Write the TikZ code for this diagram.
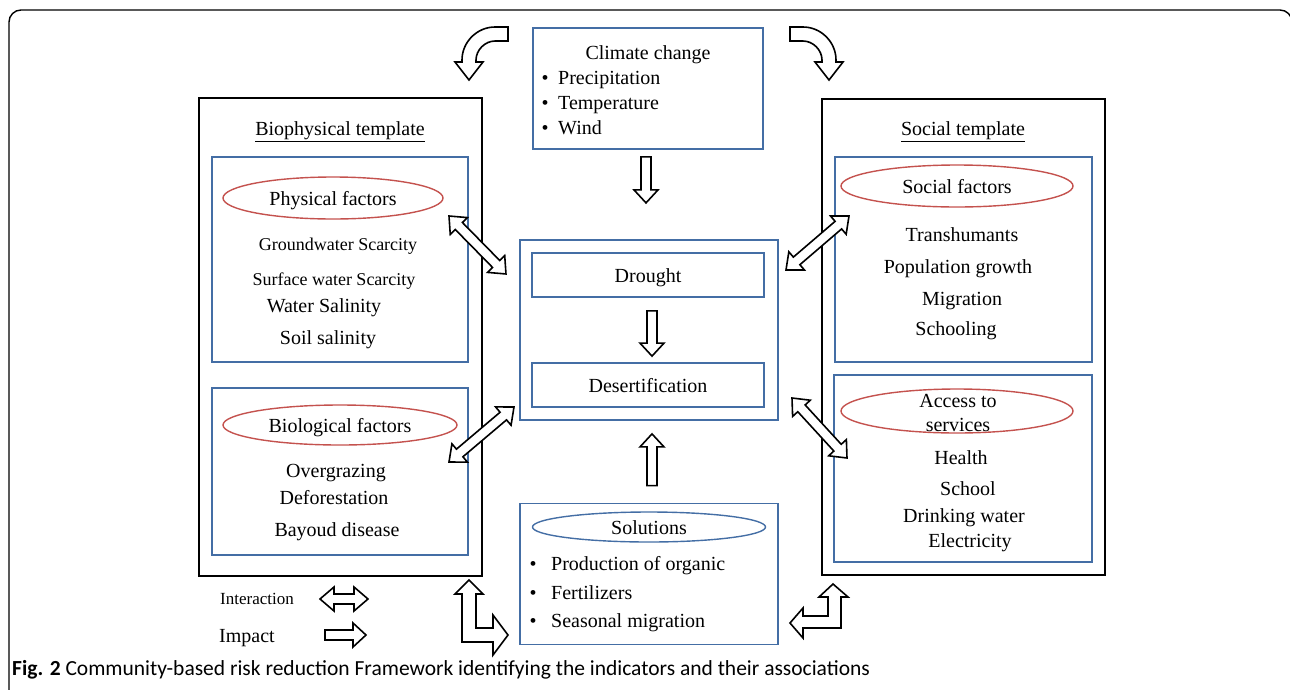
\documentclass[tikz,border=0pt]{standalone}
\usepackage{fontspec}
\setmainfont{Liberation Serif}
\newfontfamily\capfont{Carlito}
\usepackage{xcolor}
\usepackage{tikz}
\usetikzlibrary{shapes,arrows,positioning,calc,shapes.geometric}

\definecolor{boxblue}{RGB}{68,110,165}
\definecolor{ovalred}{RGB}{196,82,78}

% hollow block arrows between two points
\newcommand{\twoway}[2]{%
  \draw[blockline] let \p1=(#1), \p2=(#2),
    \n1={atan2(\y2-\y1,\x2-\x1)}, \n2={veclen(\x2-\x1,\y2-\y1)} in
    [shift={(\p1)}, rotate=\n1]
    (0,0) -- (14,12) -- (14,5) -- (\n2-14,5) -- (\n2-14,12) -- (\n2,0)
    -- (\n2-14,-12) -- (\n2-14,-5) -- (14,-5) -- (14,-12) -- cycle;}
\newcommand{\oneway}[2]{%
  \draw[blockline] let \p1=(#1), \p2=(#2),
    \n1={atan2(\y2-\y1,\x2-\x1)}, \n2={veclen(\x2-\x1,\y2-\y1)} in
    [shift={(\p1)}, rotate=\n1]
    (0,-5) -- (\n2-13,-5) -- (\n2-13,-12) -- (\n2,0) -- (\n2-13,12)
    -- (\n2-13,5) -- (0,5) -- cycle;}

\begin{document}
\begin{tikzpicture}[x=1pt, y=-1pt, >=latex']
    \tikzstyle{frame} = [rectangle, draw=black, line width=2pt, inner sep=0pt]
    \tikzstyle{bluebox} = [rectangle, draw=boxblue, line width=1.8pt, inner sep=0pt]
    \tikzstyle{oval} = [ellipse, draw=ovalred, line width=1.4pt, inner sep=0pt]
    \tikzstyle{txt} = [inner sep=0pt, font=\fontsize{20}{24}\selectfont, text height=16pt, text depth=1pt]
    \tikzstyle{small} = [inner sep=0pt, font=\fontsize{18}{22}\selectfont, text height=15pt, text depth=1pt]
    \tikzstyle{blockline} = [draw=black, fill=white, line width=1.6pt]

    \useasboundingbox (0,0) rectangle (1290,689);
    \draw[line width=1.4pt, rounded corners=12pt] (9,10) rectangle (1292,705);

    % templates
    \node [frame, minimum width=283pt, minimum height=478pt] (bio) at (340.5,337) {};
    \node [frame, minimum width=283pt, minimum height=476pt] (soc) at (963.5,337) {};
    \node [txt] (biotitle) at (340,128) {\underline{Biophysical template}};
    \node [txt] (soctitle) at (963,128) {\underline{Social template}};

    \node [bluebox, minimum width=256pt, minimum height=205pt] (phys) at (340,259.5) {};
    \node [bluebox, minimum width=256pt, minimum height=167pt] (biol) at (340,471.5) {};
    \node [bluebox, minimum width=257pt, minimum height=205pt] (sfac) at (963.5,259.5) {};
    \node [bluebox, minimum width=258pt, minimum height=187pt] (acc) at (963,468.5) {};

    \node [oval, txt, minimum width=220pt, minimum height=42pt] (physoval) at (333,198) {Physical factors};
    \node [oval, txt, minimum width=234pt, minimum height=40pt] (biooval) at (340,425) {Biological factors};
    \node [oval, txt, minimum width=232pt, minimum height=42pt] (socoval) at (957,186) {Social factors};
    \node [oval, minimum width=232pt, minimum height=44pt] (accoval) at (957,411) {};
    \node [inner sep=0pt, align=center, font=\fontsize{20}{24}\selectfont] (acctext) at (958,413) {Access to\\services};

    \node [small] (gw) at (338,243) {Groundwater Scarcity};
    \node [small] (sw) at (334,278) {Surface water Scarcity};
    \node [txt] (ws) at (324,305) {Water Salinity};
    \node [txt] (ss) at (328,337) {Soil salinity};
    \node [txt] (og) at (336,470) {Overgrazing};
    \node [txt] (df) at (334,497) {Deforestation};
    \node [txt] (bd) at (337,529) {Bayoud disease};

    \node [txt] (tr) at (962,234) {Transhumants};
    \node [txt] (pg) at (958,266) {Population growth};
    \node [txt] (mg) at (962,298) {Migration};
    \node [txt] (sc) at (956,328) {Schooling};
    \node [txt] (he) at (961,457) {Health};
    \node [txt] (sh) at (968,488) {School};
    \node [txt] (dw) at (964,515) {Drinking water};
    \node [txt] (el) at (970,540) {Electricity};

    % centre column
    \node [bluebox, minimum width=230pt, minimum height=121pt] (clim) at (648,88.5) {};
    \node [txt] (climtitle) at (648,52) {Climate change};
    \foreach \y/\t in {77/Precipitation, 102/Temperature, 127/Wind} {
        \node [txt] at (545,\y) {\textbullet};
        \node [txt, anchor=west] at (558,\y) {\t};
    }
    \node [bluebox, minimum width=258pt, minimum height=180pt] (core) at (649,330) {};
    \node [bluebox, txt, minimum width=232pt, minimum height=44pt] (drought) at (648,275) {Drought};
    \node [bluebox, txt, minimum width=232pt, minimum height=44pt] (desert) at (648,385) {Desertification};

    \node [bluebox, minimum width=258pt, minimum height=141pt] (sol) at (649,574) {};
    \node [oval, txt, draw=boxblue, minimum width=233pt, minimum height=30pt] (soloval) at (649,527) {Solutions};
    \foreach \y/\t in {563/Production of organic, 592/Fertilizers, 620/Seasonal migration} {
        \node [txt] at (533,\y) {\textbullet};
        \node [txt, anchor=west] at (551,\y) {\t};
    }

    % legend
    \node [inner sep=0pt, font=\fontsize{17}{20}\selectfont, text height=14pt, text depth=1pt] (inter) at (257,598) {Interaction};
    \node [txt] (impact) at (247,635) {Impact};
    \coordinate (int1) at (320,599);
    \coordinate (int2) at (368,599);
    \coordinate (imp1) at (325,635);
    \coordinate (imp2) at (366,635);
    \twoway{int1}{int2}
    \oneway{imp1}{imp2}

    % arrows
    \oneway{$(clim.south)+(-2,7)$}{$(clim.south)+(-2,53)$}
    \oneway{$(drought.south)+(4,13)$}{$(desert.north)+(4,-6)$}
    \oneway{$(sol.north)+(3,-17)$}{$(core.south)+(3,13)$}

    \coordinate (ph1) at (449,216);
    \coordinate (ph2) at (506,274);
    \coordinate (bi1) at (449,462);
    \coordinate (bi2) at (514,407);
    \coordinate (so1) at (786,270);
    \coordinate (so2) at (849,216);
    \coordinate (ac1) at (792,398);
    \coordinate (ac2) at (847,458);
    \twoway{ph1}{ph2}
    \twoway{bi1}{bi2}
    \twoway{so1}{so2}
    \twoway{ac1}{ac2}

    % bent arrows
    \draw [blockline] (508,27) -- (495,27) .. controls (477,27) and (462,42) .. (462,60)
        -- (462,62) -- (455,62) -- (469,80) -- (483,62) -- (476,62) -- (476,60)
        .. controls (476,50) and (485,41) .. (495,41) -- (508,41) -- cycle;
    \draw [blockline] (790,27) -- (803,27) .. controls (821,27) and (836,42) .. (836,60)
        -- (836,62) -- (843,62) -- (829,80) -- (815,62) -- (822,62) -- (822,60)
        .. controls (822,50) and (813,41) .. (803,41) -- (790,41) -- cycle;
    \draw [blockline] (469,580) -- (483,594) -- (476,594) -- (476,628) -- (493,628)
        -- (493,615) -- (508,635) -- (493,655) -- (493,642) -- (462,642)
        -- (462,594) -- (455,594) -- cycle;
    \draw [blockline] (833,584) -- (848,597) -- (841,597) -- (841,628) -- (803,628)
        -- (803,638) -- (790,623) -- (803,608) -- (803,616) -- (828,616)
        -- (828,597) -- (819,597) -- cycle;

    \node [anchor=base west, inner sep=0pt, font=\capfont\fontsize{21.5}{24}\selectfont] (caption) at (12,675)
        {\textbf{Fig. 2} Community-based risk reduction Framework identifying the indicators and their associations};
\end{tikzpicture}
\end{document}
